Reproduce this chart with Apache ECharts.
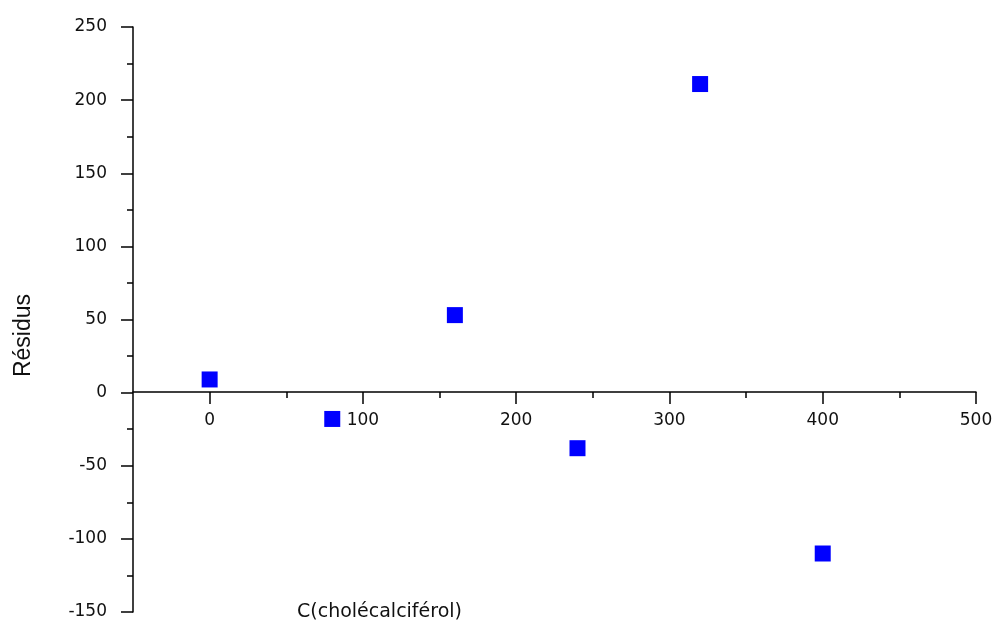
<!DOCTYPE html>
<html>
<head>
<meta charset="utf-8">
<script src="https://cdn.jsdelivr.net/npm/echarts@6/dist/echarts.min.js"></script>
</head>
<body style="margin:0;background:#fff;">
<div id="main" style="width:995px;height:628px;"></div>
<script>
// données
const concentrations = [0, 80, 160, 240, 320, 400];
const residus = [9, -18, 53, -38, 211, -110];
const xMajorTicks = [0, 100, 200, 300, 400, 500];
const xMinorTicks = [50, 150, 250, 350, 450];

const points = concentrations.map((c, i) => [c, residus[i]]);
const labelFont = {
  fontFamily: 'DejaVu Sans',
  fontSize: 17,
  color: '#111'
};
// l'axe des x passe par y = 0 : on le remonte depuis le bas de la grille
const xOffset = -220;

const myChart = echarts.init(document.getElementById('main'));
myChart.setOption({
  backgroundColor: '#fff',
  animation: false,
  title: {
    text: 'C(cholécalciférol)',
    left: 297,
    top: 603,
    padding: 0,
    textStyle: { fontFamily: 'DejaVu Sans', fontSize: 19, fontWeight: 'normal', color: '#111' }
  },
  grid: { left: 133, right: 19, top: 27, bottom: 16, outerBoundsMode: 'none' },
  xAxis: [
    {
      type: 'value',
      min: -50,
      max: 500,
      position: 'bottom',
      offset: xOffset,
      splitLine: { show: false },
      axisLine: { onZero: false, lineStyle: { color: '#000', width: 1.5 } },
      // grands traits tous les 100
      axisTick: { customValues: xMajorTicks, length: 12, lineStyle: { color: '#000', width: 1.5 } },
      axisLabel: { customValues: xMajorTicks, margin: 20, ...labelFont }
    },
    {
      type: 'value',
      min: -50,
      max: 500,
      position: 'bottom',
      offset: xOffset,
      splitLine: { show: false },
      axisLine: { show: false, onZero: false },
      // petits traits
      axisTick: { customValues: xMinorTicks, length: 6, lineStyle: { color: '#000', width: 1.5 } },
      axisLabel: { show: false }
    }
  ],
  yAxis: {
    type: 'value',
    min: -150,
    max: 250,
    interval: 50,
    name: 'Résidus',
    nameLocation: 'middle',
    nameGap: 98,
    nameTextStyle: { fontFamily: 'Liberation Sans', fontSize: 23, color: '#111', padding: [0, 32, 0, 0] },
    splitLine: { show: false },
    axisLine: { show: true, onZero: false, lineStyle: { color: '#000', width: 1.5 } },
    axisTick: { show: true, length: 12, lineStyle: { color: '#000', width: 1.5 } },
    minorTick: { show: true, splitNumber: 2, length: 6, lineStyle: { color: '#000', width: 1.5 } },
    axisLabel: { margin: 26, ...labelFont }
  },
  series: [
    {
      type: 'scatter',
      xAxisIndex: 0,
      symbol: 'rect',
      symbolSize: 16,
      itemStyle: { color: '#0000ff', opacity: 1 },
      data: points
    }
  ]
});
</script>
</body>
</html>
